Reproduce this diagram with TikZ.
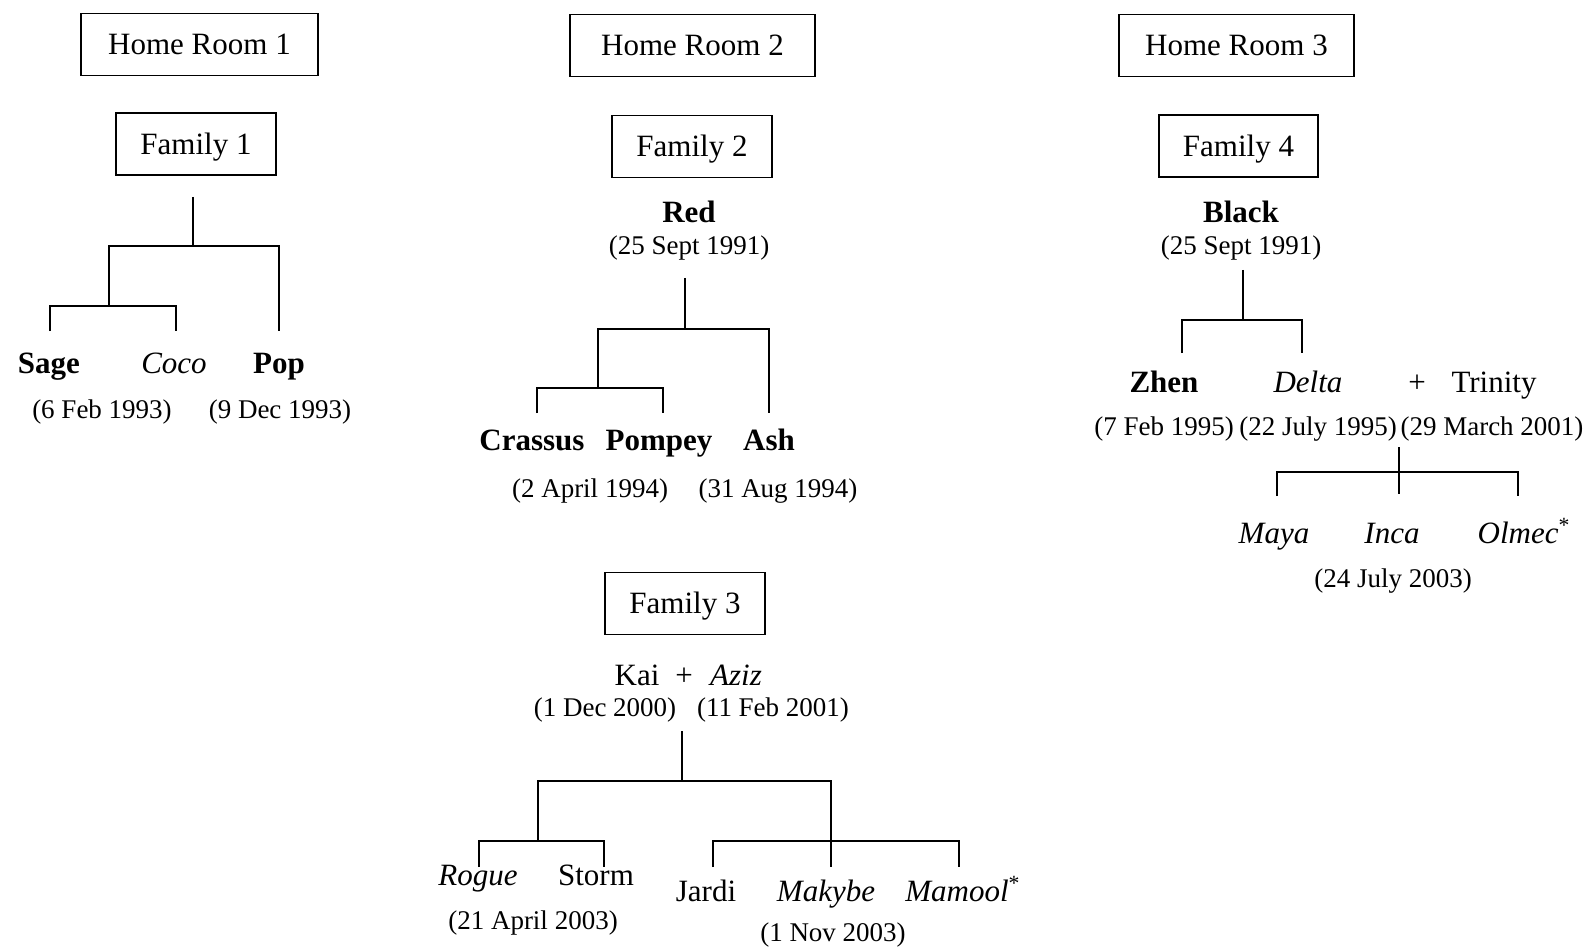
\documentclass[tikz,border=0pt]{standalone}
\usepackage{fontspec}
\setmainfont{Liberation Serif}
\begin{document}
\begin{tikzpicture}[x=0.5pt,y=-0.5pt,
  box/.style={draw,line width=0.8pt,minimum height=31pt,inner sep=0pt,text height=10.3pt,text depth=0pt,font=\fontsize{15.5}{18}\selectfont},
  nm/.style={inner sep=0pt,anchor=base,font=\fontsize{15.5}{18}\selectfont},
  dt/.style={inner sep=0pt,anchor=base,font=\fontsize{13.5}{16}\selectfont},
  ln/.style={line width=0.8pt}]
\useasboundingbox (0,0) rectangle (1587,947);

% ---------- boxes ----------
\node[box,minimum width=118.5pt] (hr1) at (199.5,44.5) {Home Room 1};
\node[box,minimum width=122.5pt] (hr2) at (692.5,45.5) {Home Room 2};
\node[box,minimum width=117.5pt] (hr3) at (1236.5,45.5) {Home Room 3};
\node[box,minimum width=80pt] (fam1) at (196,144) {Family 1};
\node[box,minimum width=80pt] (fam2) at (692,146.5) {Family 2};
\node[box,minimum width=79.5pt] (fam4) at (1238.5,146) {Family 4};
\node[box,minimum width=80pt] (fam3) at (685,603.5) {Family 3};

% ---------- Family 1 ----------
\node[nm] (sage) at (49,373) {\textbf{Sage}};
\node[nm] (coco) at (174,373) {\textit{Coco}};
\node[nm] (pop) at (279,373) {\textbf{Pop}};
\node[dt] (sageD) at (102,418) {(6 Feb 1993)};
\node[dt] (popD) at (280,418) {(9 Dec 1993)};
\coordinate (f1s) at (193,197);
\coordinate (f1j) at (193,246);
\coordinate (f1l) at (109,306);
\coordinate (f1r) at (279,331);
\coordinate (f1a) at (50,331);
\coordinate (f1b) at (176,331);
\draw[ln] (f1s) -- (f1j);
\draw[ln] (f1l) |- (f1j) -| (f1r);
\draw[ln] (f1a) |- (f1l) -| (f1b);

% ---------- Family 2 ----------
\node[nm] (red) at (689,223) {\textbf{Red}};
\node[dt] (redD) at (689,255) {(25 Sept 1991)};
\node[nm] (crassus) at (532,450) {\textbf{Crassus}};
\node[nm] (pompey) at (659,450) {\textbf{Pompey}};
\node[nm] (ash) at (769,450) {\textbf{Ash}};
\node[dt] (cpD) at (590,497) {(2 April 1994)};
\node[dt] (ashD) at (778,497) {(31 Aug 1994)};
\coordinate (f2s) at (685,278);
\coordinate (f2j) at (685,329);
\coordinate (f2l) at (598,388);
\coordinate (f2r) at (769,413);
\coordinate (f2a) at (537,413);
\coordinate (f2b) at (663,413);
\draw[ln] (f2s) -- (f2j);
\draw[ln] (f2l) |- (f2j) -| (f2r);
\draw[ln] (f2a) |- (f2l) -| (f2b);

% ---------- Family 4 ----------
\node[nm] (black) at (1241,222) {\textbf{Black}};
\node[dt] (blackD) at (1241,255) {(25 Sept 1991)};
\node[nm] (zhen) at (1164,392) {\textbf{Zhen}};
\node[nm] (delta) at (1308,392) {\textit{Delta}};
\node[nm] (plus4) at (1417,392) {+};
\node[nm] (trinity) at (1494,392) {Trinity};
\node[dt] (zhenD) at (1164,435) {(7 Feb 1995)};
\node[dt] (deltaD) at (1318,435) {(22 July 1995)};
\node[dt] (trinD) at (1492,435) {(29 March 2001)};
\node[nm] (maya) at (1274,543) {\textit{Maya}};
\node[nm] (inca) at (1392,543) {\textit{Inca}};
\node[nm] (olmec) at (1524,543) {\textit{Olmec}\textsuperscript{*}};
\node[dt] (incaD) at (1393,587) {(24 July 2003)};
\coordinate (f4s) at (1243,270);
\coordinate (f4j) at (1243,320);
\coordinate (f4a) at (1182,353);
\coordinate (f4b) at (1302,353);
\draw[ln] (f4s) -- (f4j);
\draw[ln] (f4a) |- (f4j) -| (f4b);
\coordinate (t1) at (1399,447);
\coordinate (t2) at (1399,472);
\coordinate (tin) at (1399,494);
\coordinate (tma) at (1277,496);
\coordinate (tol) at (1518,496);
\draw[ln] (t1) -- (tin);
\draw[ln] (tma) |- (t2) -| (tol);

% ---------- Family 3 ----------
\node[nm] (kai) at (637,685) {Kai};
\node[nm] (plus3) at (684,685) {+};
\node[nm] (aziz) at (736,685) {\textit{Aziz}};
\node[dt] (kaiD) at (605,716) {(1 Dec 2000)};
\node[dt] (azizD) at (773,716) {(11 Feb 2001)};
\node[nm] (rogue) at (478,885) {\textit{Rogue}};
\node[nm] (storm) at (596,885) {Storm};
\node[nm] (jardi) at (706,901) {Jardi};
\node[nm] (makybe) at (826,901) {\textit{Makybe}};
\node[nm] (mamool) at (963,901) {\textit{Mamool}\textsuperscript{*}};
\node[dt] (rsD) at (533,929) {(21 April 2003)};
\node[dt] (mkD) at (833,941) {(1 Nov 2003)};
\coordinate (f3s) at (682,731);
\coordinate (f3j) at (682,781);
\coordinate (f3l) at (538,841);
\coordinate (f3r) at (831,867);
\coordinate (f3m) at (831,841);
\coordinate (r1) at (479,867);
\coordinate (r2) at (604,867);
\coordinate (j1) at (713,867);
\coordinate (j3) at (959,867);
\draw[ln] (f3s) -- (f3j);
\draw[ln] (f3l) |- (f3j) -| (f3r);
\draw[ln] (r1) |- (f3l) -| (r2);
\draw[ln] (j1) |- (f3m) -| (j3);
\end{tikzpicture}
\end{document}
